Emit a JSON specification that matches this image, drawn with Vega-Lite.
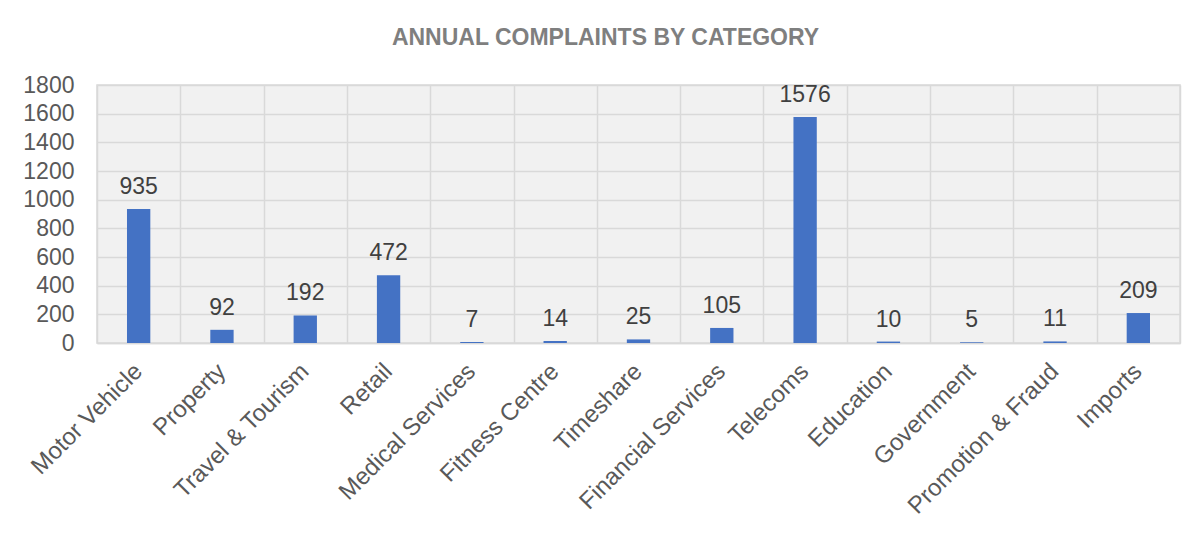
{
  "$schema": "https://vega.github.io/schema/vega-lite/v6.json",
  "width": 1083,
  "height": 258,
  "autosize": "none",
  "padding": {"left": 97, "top": 85, "right": 23, "bottom": 193},
  "background": "white",
  "config": {
    "view": {"fill": "#f1f1f1", "stroke": "#d9d9d9", "strokeWidth": 1.5},
    "font": "Liberation Sans"
  },
  "title": {
    "text": "ANNUAL COMPLAINTS BY CATEGORY",
    "font": "Liberation Sans",
    "fontSize": 23,
    "fontWeight": "bold",
    "color": "#7f7f7f",
    "frame": "group",
    "anchor": "middle",
    "baseline": "alphabetic",
    "offset": 6,
    "dx": -33
  },
  "data": {
    "values": [
      {"category": "Motor Vehicle", "complaints": 935},
      {"category": "Property", "complaints": 92},
      {"category": "Travel & Tourism", "complaints": 192},
      {"category": "Retail", "complaints": 472},
      {"category": "Medical Services", "complaints": 7},
      {"category": "Fitness Centre", "complaints": 14},
      {"category": "Timeshare", "complaints": 25},
      {"category": "Financial Services", "complaints": 105},
      {"category": "Telecoms", "complaints": 1576},
      {"category": "Education", "complaints": 10},
      {"category": "Government", "complaints": 5},
      {"category": "Promotion & Fraud", "complaints": 11},
      {"category": "Imports", "complaints": 209}
    ]
  },
  "encoding": {
    "x": {
      "field": "category",
      "type": "nominal",
      "sort": null,
      "scale": {"paddingInner": 0, "paddingOuter": 0},
      "axis": {
        "title": null,
        "labelAngle": -45,
        "labelAlign": "right",
        "labelBaseline": "top",
        "labelFont": "Liberation Sans",
        "labelFontSize": 24,
        "labelColor": "#595959",
        "labelPadding": 16,
        "labelOffset": -9,
        "labelLimit": 0,
        "ticks": false,
        "domain": true,
        "domainColor": "#d9d9d9",
        "domainWidth": 1.5,
        "grid": true,
        "gridColor": "#d9d9d9",
        "gridWidth": 1.5,
        "tickBand": "extent"
      }
    },
    "y": {
      "field": "complaints",
      "type": "quantitative",
      "scale": {"domain": [0, 1800], "nice": false},
      "axis": {
        "title": null,
        "values": [0, 200, 400, 600, 800, 1000, 1200, 1400, 1600, 1800],
        "format": "d",
        "labelFont": "Liberation Sans",
        "labelFontSize": 23,
        "labelColor": "#595959",
        "labelPadding": 23,
        "ticks": false,
        "domain": false,
        "grid": true,
        "gridColor": "#d9d9d9",
        "gridWidth": 1.5
      }
    }
  },
  "layer": [
    {
      "mark": {"type": "bar", "color": "#4472C4", "width": {"band": 0.28}}
    },
    {
      "mark": {
        "type": "text",
        "font": "Liberation Sans",
        "fontSize": 23,
        "color": "#404040",
        "baseline": "alphabetic",
        "dy": -15
      },
      "encoding": {"text": {"field": "complaints", "type": "quantitative"}}
    }
  ]
}
